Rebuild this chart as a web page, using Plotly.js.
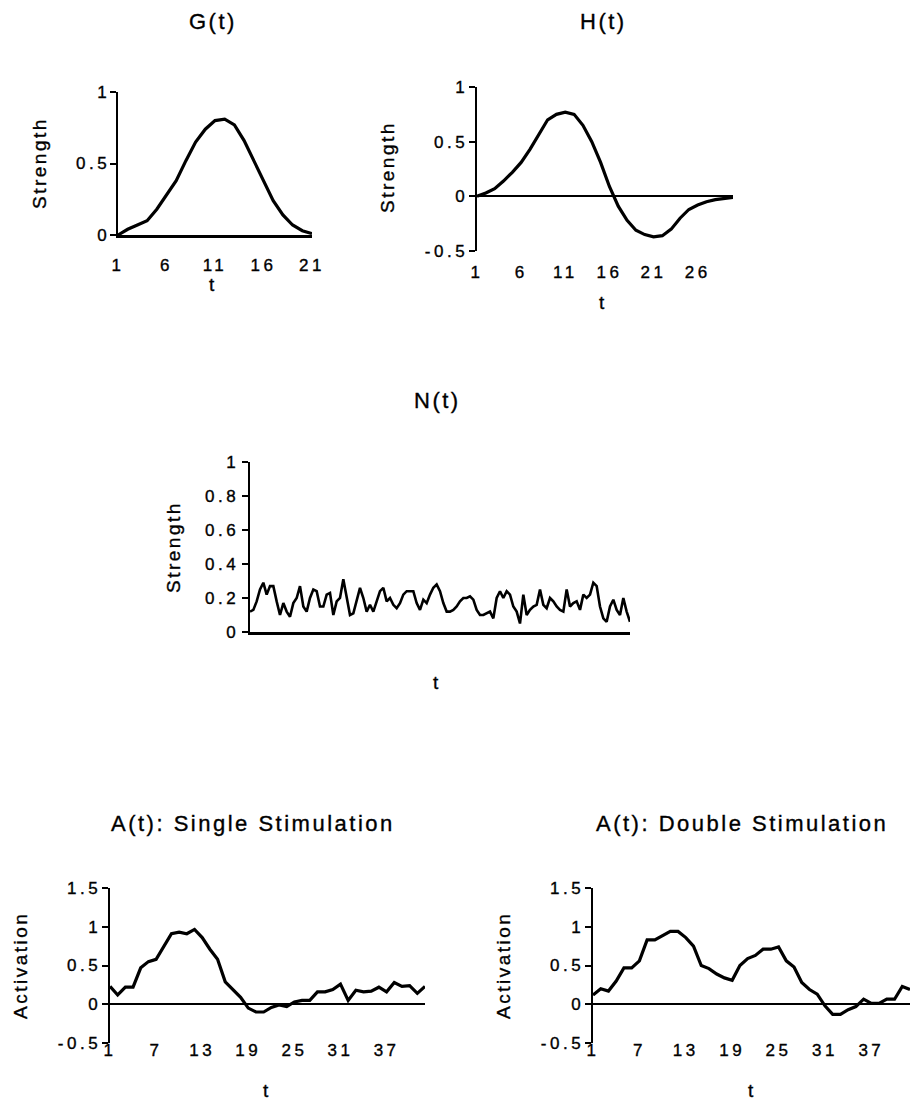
<!DOCTYPE html>
<html>
<head>
<meta charset="utf-8">
<script src="https://cdn.plot.ly/plotly-3.0.1.min.js"></script>
<style>
  html, body { margin: 0; padding: 0; background: #fff; }
  #chart { width: 915px; height: 1101px; }
  .xaxislayer-above text, .yaxislayer-above text { letter-spacing: 3.5px; stroke: #000; stroke-width: 0.35px; }
  .annotation-text { letter-spacing: 2.5px; stroke: #000; stroke-width: 0.35px; }
</style>
</head>
<body>
<div id="chart"></div>
<script>
// ---------- data ----------
const gT = [1,2,3,4,5,6,7,8,9,10,11,12,13,14,15,16,17,18,19,20,21];
const gValues = [0.0,0.04,0.07,0.10,0.18,0.28,0.38,0.52,0.65,0.74,0.80,0.81,0.77,0.66,0.52,0.37,0.24,0.14,0.07,0.03,0.01];

const hT = [1,2,3,4,5,6,7,8,9,10,11,12,13,14,15,16,17,18,19,20,21,22,23,24,25,26,27,28,29,30];
const hValues = [0.0,0.03,0.07,0.14,0.22,0.31,0.43,0.57,0.70,0.75,0.77,0.75,0.65,0.50,0.31,0.09,-0.09,-0.22,-0.31,-0.35,-0.37,-0.36,-0.30,-0.20,-0.12,-0.08,-0.05,-0.03,-0.02,-0.01];

const nValues = [0.12,0.13,0.18,0.25,0.29,0.22,0.27,0.27,0.18,0.10,0.17,0.12,0.09,0.17,0.20,0.27,0.15,0.12,0.20,0.25,
  0.24,0.15,0.15,0.22,0.23,0.10,0.18,0.20,0.31,0.20,0.10,0.11,0.18,0.26,0.20,0.12,0.16,0.12,0.18,0.24,
  0.26,0.18,0.20,0.16,0.14,0.17,0.22,0.24,0.24,0.24,0.17,0.13,0.19,0.17,0.22,0.26,0.28,0.24,0.17,0.12,
  0.12,0.13,0.15,0.18,0.20,0.20,0.21,0.19,0.13,0.10,0.10,0.11,0.12,0.08,0.20,0.24,0.20,0.24,0.22,0.15,
  0.12,0.05,0.22,0.10,0.13,0.15,0.16,0.25,0.16,0.14,0.20,0.18,0.15,0.13,0.12,0.25,0.15,0.17,0.18,0.13,
  0.22,0.20,0.22,0.29,0.27,0.15,0.08,0.06,0.15,0.19,0.13,0.10,0.20,0.12,0.06];
const nT = nValues.map((v, i) => i + 1);

const aT = Array.from({length: 42}, (v, i) => i + 1);
const aSingle = [0.23,0.12,0.22,0.22,0.47,0.55,0.58,0.75,0.91,0.93,0.91,0.965,0.86,0.71,0.58,0.29,0.19,0.09,-0.05,-0.10,
  -0.10,-0.04,-0.01,-0.03,0.03,0.05,0.05,0.16,0.16,0.19,0.26,0.05,0.18,0.16,0.17,0.22,0.16,0.28,0.23,0.24,0.14,0.23];
const aDouble = [0.12,0.20,0.17,0.30,0.47,0.47,0.56,0.83,0.83,0.88,0.94,0.94,0.86,0.75,0.50,0.46,0.39,0.34,0.31,0.50,
  0.59,0.63,0.71,0.71,0.74,0.56,0.48,0.28,0.19,0.13,-0.02,-0.13,-0.13,-0.07,-0.03,0.065,0.01,0.01,0.065,0.065,0.23,0.19];

const gTicks = [1,6,11,16,21];
const hTicks = [1,6,11,16,21,26];
const aTicks = [1,7,13,19,25,31,37];
const gYTicks = [0,0.5,1];           const gYLabels = ['0','0.5','1'];
const hYTicks = [-0.5,0,0.5,1];      const hYLabels = ['-0.5','0','0.5','1'];
const nYTicks = [0,0.2,0.4,0.6,0.8,1]; const nYLabels = ['0','0.2','0.4','0.6','0.8','1'];
const aYTicks = [-0.5,0,0.5,1,1.5];  const aYLabels = ['-0.5','0','0.5','1','1.5'];

const panelTitles = ['G(t)','H(t)','N(t)','A(t): Single Stimulation','A(t): Double Stimulation'];

// ---------- layout helpers ----------
const W = 915, H = 1101;
const fx = x => x / W;
const fy = y => 1 - y / H;
const FONT = 'Liberation Sans, Arial, Helvetica, sans-serif';
const tickFont = {family: FONT, size: 17, color: '#000'};

function xAxis(l, r, anchor, range, tickvals, opts) {
  return Object.assign({
    domain: [fx(l), fx(r)], anchor: anchor, range: range, tickvals: tickvals,
    showgrid: false, zeroline: false, showline: false, fixedrange: true,
    ticks: 'outside', ticklen: 0, tickcolor: 'rgba(0,0,0,0)', tickangle: 0,
    tickfont: tickFont
  }, opts || {});
}
function yAxis(t, b, anchor, range, tickvals, ticktext, zero, standoff) {
  return {
    domain: [fy(b), fy(t)], anchor: anchor, range: range, tickvals: tickvals, ticktext: ticktext,
    showgrid: false, zeroline: !!zero, zerolinecolor: '#000', zerolinewidth: 2,
    showline: true, linecolor: '#000', linewidth: 2.5,
    ticks: 'outside', ticklen: 6, tickwidth: 2, tickcolor: '#000',
    ticklabelstandoff: standoff || 0,
    tickfont: tickFont, fixedrange: true
  };
}

const lineStyle = {color: '#000', width: 3.2, shape: 'linear'};
const data = [
  {x: gT, y: gValues, xaxis: 'x', yaxis: 'y', type: 'scatter', mode: 'lines', line: lineStyle, name: 'G(t)'},
  {x: hT, y: hValues, xaxis: 'x2', yaxis: 'y2', type: 'scatter', mode: 'lines', line: lineStyle, name: 'H(t)'},
  {x: nT, y: nValues, xaxis: 'x3', yaxis: 'y3', type: 'scatter', mode: 'lines', line: {color: '#000', width: 2.6}, name: 'N(t)'},
  {x: aT, y: aSingle, xaxis: 'x4', yaxis: 'y4', type: 'scatter', mode: 'lines', line: lineStyle, name: 'Single'},
  {x: aT, y: aDouble, xaxis: 'x5', yaxis: 'y5', type: 'scatter', mode: 'lines', line: lineStyle, name: 'Double'}
];

function ann(text, x, y, size, rot) {
  return {text: text, xref: 'paper', yref: 'paper', x: fx(x), y: fy(y),
    xanchor: 'center', yanchor: 'middle', showarrow: false,
    textangle: rot || 0, font: {family: FONT, size: size, color: '#000'}};
}

const layout = {
  width: W, height: H, autosize: false,
  margin: {l: 0, r: 0, t: 0, b: 0, pad: 0},
  paper_bgcolor: '#fff', plot_bgcolor: 'rgba(0,0,0,0)',
  showlegend: false,
  font: {family: FONT, color: '#000'},
  // G(t)
  xaxis:  xAxis(118, 312, 'y', [1, 21], gTicks, {showline: true, linecolor: '#000', linewidth: 2.5, ticklen: 13}),
  yaxis:  yAxis(92, 235, 'x', [0, 1], gYTicks, gYLabels, false, -4),
  // H(t)
  xaxis2: xAxis(477, 733, 'y2', [1, 30], hTicks, {ticklen: 6}),
  yaxis2: yAxis(87, 251, 'x2', [-0.5, 1], hYTicks, hYLabels, true, -3),
  // N(t)
  xaxis3: xAxis(250, 630, 'y3', [1, 115], [], {showline: true, linecolor: '#000', linewidth: 2.5, showticklabels: false}),
  yaxis3: yAxis(462, 632, 'x3', [0, 1], nYTicks, nYLabels, false, -1),
  // A(t) single
  xaxis4: xAxis(110, 425, 'y4', [1, 42], aTicks, {ticks: '', ticklabelstandoff: -5}),
  yaxis4: yAxis(888, 1043, 'x4', [-0.5, 1.5], aYTicks, aYLabels, true, -3),
  // A(t) double
  xaxis5: xAxis(593, 910, 'y5', [1, 42], aTicks, {ticks: '', ticklabelstandoff: -5}),
  yaxis5: yAxis(888, 1043, 'x5', [-0.5, 1.5], aYTicks, aYLabels, true, -3),
  annotations: [
    ann(panelTitles[0], 213, 22, 22),
    ann(panelTitles[1], 603, 22, 22),
    ann(panelTitles[2], 437, 400, 22),
    ann(panelTitles[3], 253, 823, 22),
    ann(panelTitles[4], 742, 823, 22),
    ann('Strength', 40, 163, 19, -90),
    ann('t', 213, 285, 19),
    ann('Strength', 387, 167, 19, -90),
    ann('t', 603, 303, 19),
    ann('Strength', 173, 547, 19, -90),
    ann('t', 437, 683, 19),
    ann('Activation', 20, 966, 19, -90),
    ann('t', 267, 1090, 19),
    ann('Activation', 503, 966, 19, -90),
    ann('t', 752, 1090, 19)
  ]
};

Plotly.newPlot('chart', data, layout, {staticPlot: true, displayModeBar: false});
</script>
</body>
</html>
